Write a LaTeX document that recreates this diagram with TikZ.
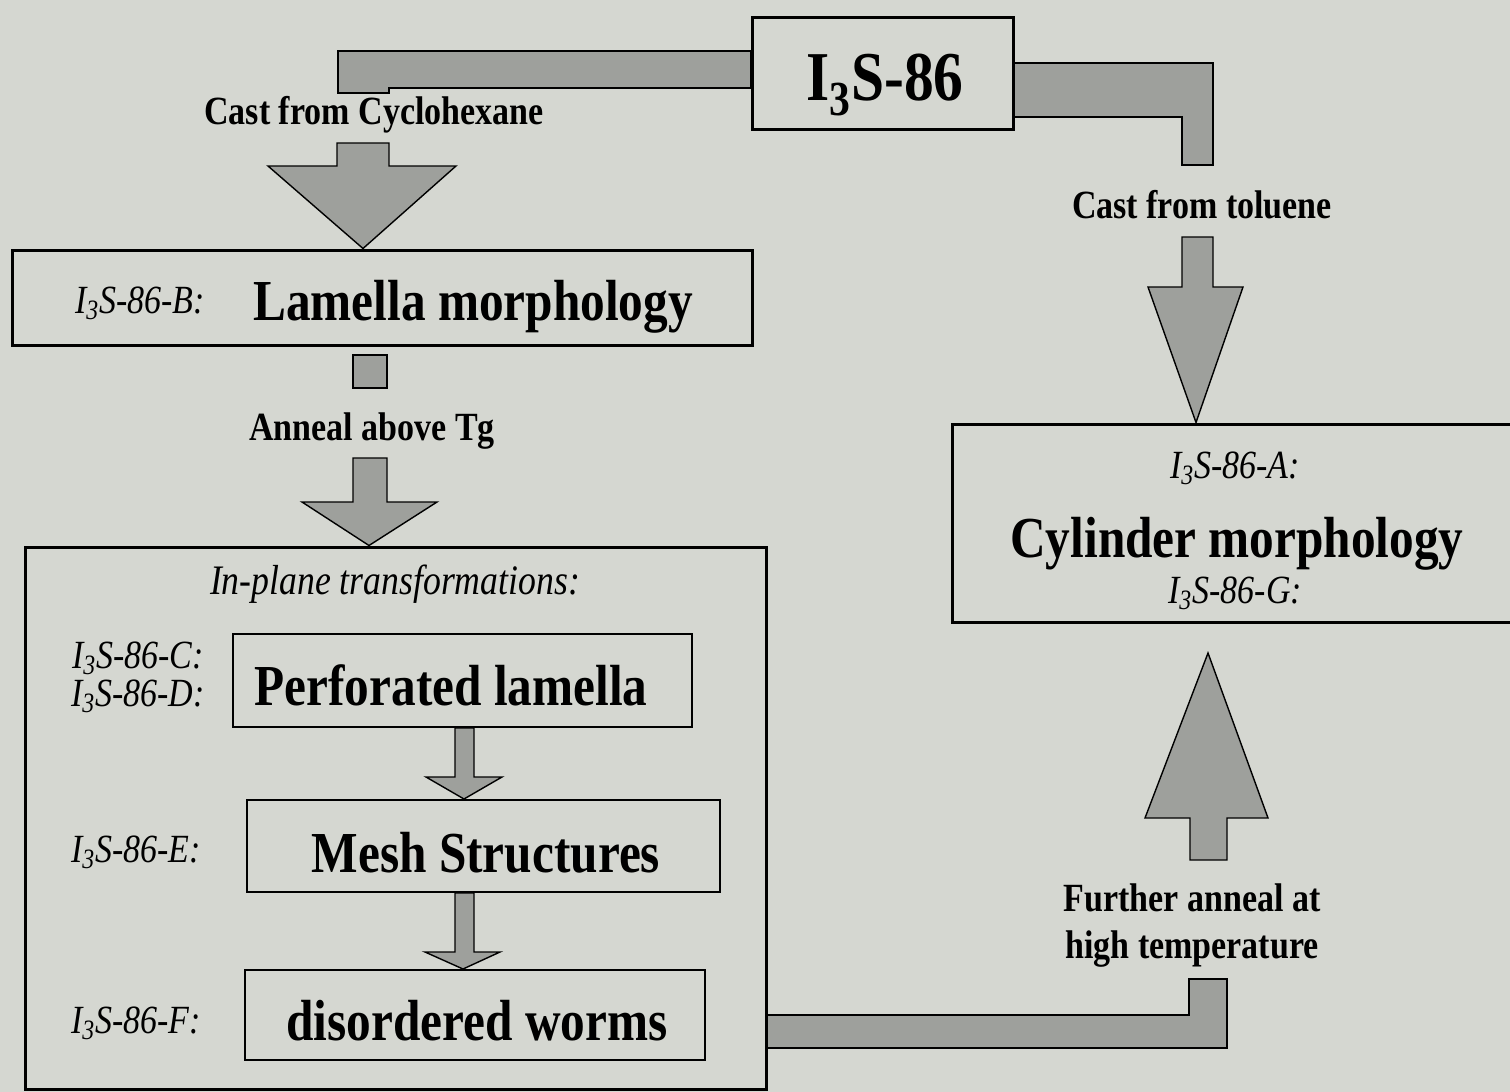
\documentclass[tikz,border=0pt]{standalone}
\usepackage{fontspec}
\setmainfont[FakeStretch=0.85]{Liberation Serif}
\usetikzlibrary{fit}
\definecolor{paper}{RGB}{213,215,209}
\definecolor{arrowgray}{RGB}{158,160,156}

\begin{document}
\begin{tikzpicture}[x=0.5pt, y=-0.5pt,
  outbox/.style={draw, line width=1.5pt, inner sep=0pt},
  inbox/.style={draw, line width=1pt, inner sep=0pt},
  blk/.style={fill=arrowgray, draw=black, line width=0.7pt},
  proctxt/.style={font=\fontsize{20}{23.5}\selectfont\bfseries, inner sep=0pt, anchor=base, align=center},
  tagtxt/.style={font=\fontsize{20}{20}\selectfont\itshape, inner sep=0pt, anchor=base},
  morph/.style={font=\fontsize{29}{29}\selectfont\bfseries, inner sep=0pt, anchor=base}]
\fill[paper] (0,0) rectangle (1510,1092);
\clip (0,0) rectangle (1510,1092);

% boxes
\node[outbox, fit={(752,17) (1013,129)}] (src) {};
\node[morph, font=\fontsize{35}{35}\selectfont\bfseries] at (885,100) {I\textsubscript{3}S-86};
\node[outbox, fit={(12,250) (752,345)}] (lamB) {};
\node[tagtxt] at (140,313) {I\textsubscript{3}S-86-B:};
\node[morph] at (473,320) {Lamella morphology};
\node[outbox, fit={(25,547) (766,1089)}] (inplane) {};
\node[tagtxt, font=\fontsize{21}{21}\selectfont\itshape] at (395,594) {In-plane transformations:};
\node[inbox, fit={(233,634) (692,727)}] (perf) {};
\node[tagtxt] at (138,668) {I\textsubscript{3}S-86-C:};
\node[tagtxt] at (138,706) {I\textsubscript{3}S-86-D:};
\node[morph] at (451,705) {Perforated lamella};
\node[inbox, fit={(247,800) (720,892)}] (mesh) {};
\node[tagtxt] at (136,862) {I\textsubscript{3}S-86-E:};
\node[morph] at (486,872) {Mesh Structures};
\node[inbox, fit={(245,970) (705,1060)}] (worm) {};
\node[tagtxt] at (136,1033) {I\textsubscript{3}S-86-F:};
\node[morph] at (477,1040) {disordered worms};
\node[outbox, fit={(952,424) (1540,622)}] (cyl) {};
\node[tagtxt] at (1235,478) {I\textsubscript{3}S-86-A:};
\node[morph] at (1237,557) {Cylinder morphology};
\node[tagtxt] at (1235,603) {I\textsubscript{3}S-86-G:};

% process labels
\node[proctxt] (lblCyc) at (374,124) {Cast from Cyclohexane};
\node[proctxt] (lblTol) at (1202,218) {Cast from toluene};
\node[proctxt] (lblTg) at (372,440) {Anneal above Tg};
\node[proctxt] (lblHot) at (1192,958) {Further anneal at\\high temperature};

% cyclohexane route
\draw[blk] (src.west |- 0,51) -- (338,51) -- (338,93) -- (389,93) -- (389,88) -- (src.west |- 0,88) -- cycle;
\draw[blk] (337,143) -- (389,143) -- (389,166) -- (456,166) -- (lamB.north -| 363,0) -- (268,166) -- (337,166) -- cycle;
% toluene route
\draw[blk] (src.east |- 0,63) -- (1213,63) -- (1213,165) -- (1182,165) -- (1182,117) -- (src.east |- 0,117) -- cycle;
\draw[blk] (1182,237) -- (1213,237) -- (1213,287) -- (1243,287) -- (cyl.north -| 1196,0) -- (1148,287) -- (1182,287) -- cycle;
% anneal above Tg
\draw[blk] (353,355) rectangle (387,388);
\draw[blk] (353,458) -- (387,458) -- (387,502) -- (437,502) -- (inplane.north -| 369,0) -- (302,502) -- (353,502) -- cycle;
% in-plane steps
\draw[blk] (perf.south -| 455,0) -- (455,777) -- (426,777) -- (mesh.north -| 464,0) -- (502,777) -- (474,777) -- (perf.south -| 474,0) -- cycle;
\draw[blk] (mesh.south -| 455,0) -- (455,952) -- (425,952) -- (worm.north -| 463,0) -- (500,952) -- (474,952) -- (mesh.south -| 474,0) -- cycle;
% high temperature route
\draw[blk] (inplane.east |- 0,1015) -- (1189,1015) -- (1189,979) -- (1227,979) -- (1227,1048) -- (inplane.east |- 0,1048) -- cycle;
\draw[blk] (1190,860) -- (1190,818) -- (1145,818) -- (1208,653) -- (1268,818) -- (1227,818) -- (1227,860) -- cycle;
\end{tikzpicture}
\end{document}
